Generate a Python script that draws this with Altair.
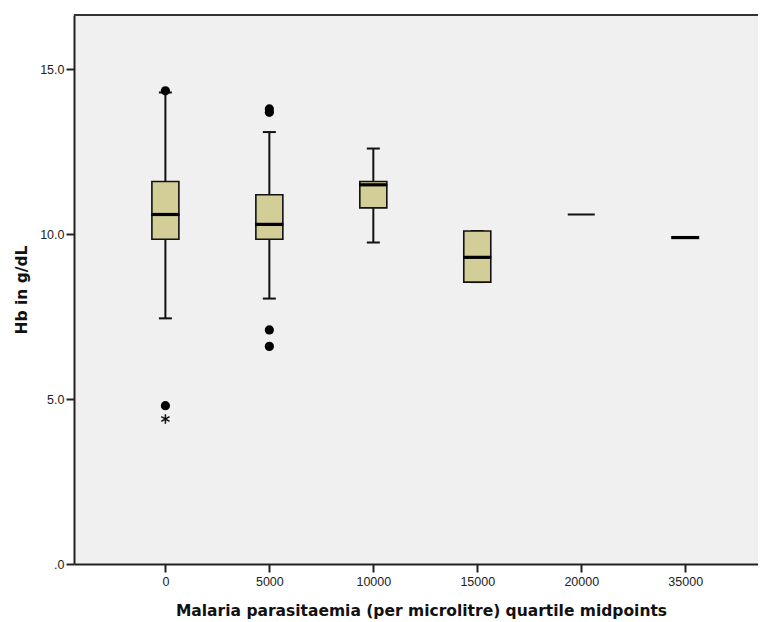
import altair as alt
import pandas as pd

categories = ["0", "5000", "10000", "15000", "20000", "35000"]
lower_whisker = [7.45, 8.05, 9.75, 8.55, 10.6, 9.9]
q1 = [9.85, 9.85, 10.8, 8.55, 10.6, 9.9]
median = [10.6, 10.3, 11.5, 9.3, 10.6, 9.9]
q3 = [11.6, 11.2, 11.6, 10.1, 10.6, 9.9]
upper_whisker = [14.3, 13.1, 12.6, 10.1, 10.6, 9.9]
single_case = [False, False, False, False, True, False]

outlier_cat = ["0", "0", "5000", "5000", "5000", "5000"]
outlier_val = [14.35, 4.8, 13.8, 13.7, 7.1, 6.6]
extreme_cat = ["0"]
extreme_val = [4.4]

idx = {c: i for i, c in enumerate(categories)}
box_df = pd.DataFrame({
    "cat": categories, "idx": [idx[c] for c in categories],
    "lw": lower_whisker, "q1": q1, "med": median, "q3": q3, "uw": upper_whisker,
    "single": single_case,
})
out_df = pd.DataFrame({"cat": outlier_cat, "idx": [idx[c] for c in outlier_cat], "v": outlier_val})
ext_df = pd.DataFrame({"cat": extreme_cat, "idx": [idx[c] for c in extreme_cat], "v": extreme_val})

label_arr = "[" + ",".join("'" + c + "'" for c in categories) + "]"

W, H = 684, 549
xscale = alt.Scale(domain=[-0.831, 5.652], nice=False, zero=False)
yscale = alt.Scale(domain=[0, 16.65], nice=False)

x_axis = alt.Axis(
    values=list(range(len(categories))), labelExpr=label_arr + "[datum.value]",
    title="Malaria parasitaemia (per microlitre) quartile midpoints",
    grid=False, tickSize=8, tickWidth=2, tickColor="#222", domainColor="#222", domainWidth=2,
    labelFont="Liberation Sans", labelFontSize=12.5, labelColor="#222", labelPadding=3,
    titleFont="DejaVu Sans", titleFontSize=15.5, titleFontWeight="bold", titleColor="#111",
    titleBaseline="middle", titleY=46, titleX=347,
)
y_axis = alt.Axis(
    values=[0, 5, 10, 15],
    labelExpr="datum.value == 0 ? '.0' : format(datum.value, '.1f')",
    title="Hb in g/dL", grid=False, tickSize=8, tickWidth=2, tickColor="#222",
    domainColor="#222", domainWidth=2,
    labelFont="Liberation Sans", labelFontSize=12.5, labelColor="#222", labelPadding=2,
    titleFont="DejaVu Sans", titleFontSize=15.5, titleFontWeight="bold", titleColor="#111",
    titleBaseline="middle", titleX=-53, titleY=H / 2, titleAngle=-90,
)

X = alt.X("idx:Q", scale=xscale, axis=x_axis)
Xn = alt.X("idx:Q", scale=xscale)
Yn = lambda f: alt.Y(f, type="quantitative", scale=yscale)

base = alt.Chart(box_df)
multi = base.transform_filter("!datum.single")
single = base.transform_filter("datum.single")

whisk_lo = multi.mark_rule(color="#111", strokeWidth=2, opacity=1).encode(
    x=X, y=alt.Y("lw:Q", scale=yscale, axis=y_axis), y2="q1:Q")
whisk_hi = multi.mark_rule(color="#111", strokeWidth=2, opacity=1).encode(x=Xn, y=Yn("q3"), y2="uw:Q")
cap_lo = multi.mark_tick(color="#111", thickness=2, size=13, orient="horizontal", opacity=1).encode(
    x=Xn, y=Yn("lw"))
cap_hi = multi.mark_tick(color="#111", thickness=2, size=13, orient="horizontal", opacity=1).encode(
    x=Xn, y=Yn("uw"))
box = multi.mark_bar(size=27, fill="#d3ce98", stroke="#111", strokeWidth=1.6, opacity=1).encode(
    x=Xn, y=Yn("q1"), y2="q3:Q")
med = multi.mark_tick(
    color="#000", thickness=3.2, size=28, orient="horizontal", opacity=1).encode(x=Xn, y=Yn("med"))
one = single.mark_tick(
    color="#111", thickness=2, size=27, orient="horizontal", opacity=1).encode(x=Xn, y=Yn("med"))

outs = alt.Chart(out_df).mark_point(filled=True, color="#000", size=85, opacity=1).encode(
    x=Xn, y=Yn("v"))
star_path = "M0,-1L0,1M-0.87,-0.5L0.87,0.5M-0.87,0.5L0.87,-0.5"
ext = alt.Chart(ext_df).mark_point(shape=star_path, filled=False, stroke="#111", strokeWidth=1.5,
                                   size=90, opacity=1).encode(x=Xn, y=Yn("v"))

top_line = alt.Chart(box_df).mark_rule(color="#333", strokeWidth=2).encode(
    x=alt.value(0), x2=alt.value(W + 10), y=alt.value(0))

chart = alt.layer(whisk_lo, whisk_hi, cap_lo, cap_hi, box, med, one, outs, ext, top_line).properties(
    width=W, height=H,
    autosize=alt.AutoSizeParams(type="none"),
    padding={"left": 66, "top": 7, "right": 0, "bottom": 58},
    background="white",
).configure_view(fill="#f0f0f0", stroke=None)

chart.save("out.html", embed_options={"renderer": "svg", "actions": False})
